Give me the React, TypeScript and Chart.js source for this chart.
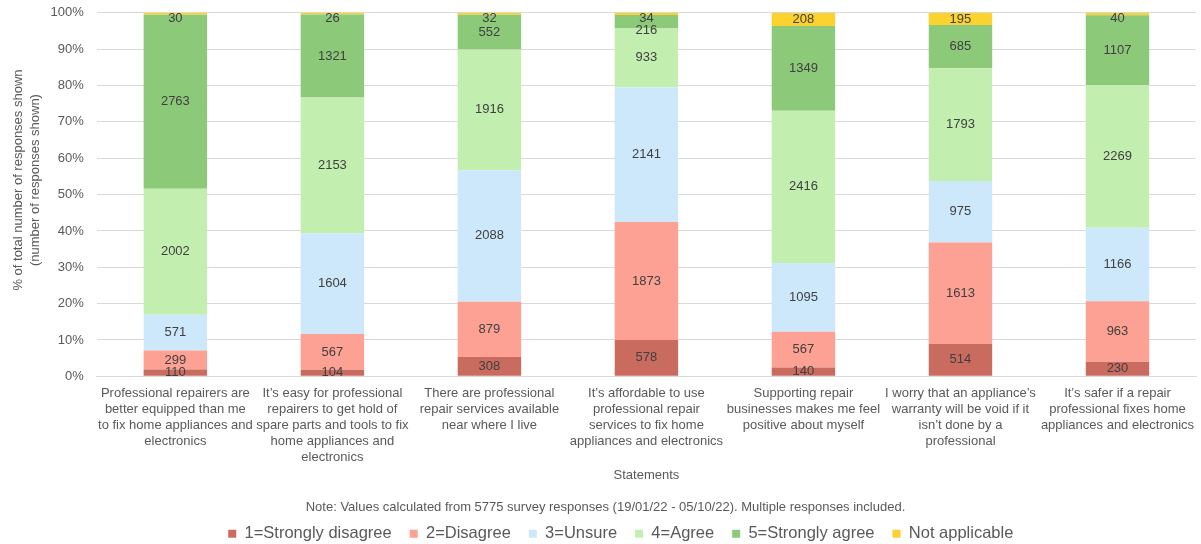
import React, { useEffect, useRef } from "react";
import { Chart, registerables } from "chart.js";

Chart.register(...registerables);

const categories: string[][] = [
  ["Professional repairers are", "better equipped than me", "to fix home appliances and", "electronics"],
  ["It’s easy for professional", "repairers to get hold of", "spare parts and tools to fix", "home appliances and", "electronics"],
  ["There are professional", "repair services available", "near where I live"],
  ["It’s affordable to use", "professional repair", "services to fix home", "appliances and electronics"],
  ["Supporting repair", "businesses makes me feel", "positive about myself"],
  ["I worry that an appliance’s", "warranty will be void if it", "isn’t done by a", "professional"],
  ["It’s safer if a repair", "professional fixes home", "appliances and electronics"],
];

const stronglyDisagree = [110, 104, 308, 578, 140, 514, 230];
const disagree = [299, 567, 879, 1873, 567, 1613, 963];
const unsure = [571, 1604, 2088, 2141, 1095, 975, 1166];
const agree = [2002, 2153, 1916, 933, 2416, 1793, 2269];
const stronglyAgree = [2763, 1321, 552, 216, 1349, 685, 1107];
const notApplicable = [30, 26, 32, 34, 208, 195, 40];

const seriesNames = ["1=Strongly disagree", "2=Disagree", "3=Unsure", "4=Agree", "5=Strongly agree", "Not applicable"];
const seriesCounts = [stronglyDisagree, disagree, unsure, agree, stronglyAgree, notApplicable];
const seriesColors = ["#c96b5f", "#fca193", "#cde8fb", "#c2efb0", "#8cc979", "#fcd32e"];

const TOTAL_RESPONSES = 5775;
const yAxisTitle = ["% of total number of responses shown", "(number of responses shown)"];
const noteText = "Note: Values calculated from 5775 survey responses (19/01/22 - 05/10/22). Multiple responses included.";
const FONT = "'Liberation Sans', Arial, Helvetica, sans-serif";
const TEXT = "#595959";

const labelPlugin = {
  id: "segmentLabels",
  afterDatasetsDraw(chart: any) {
    const ctx = chart.ctx;
    ctx.save();
    ctx.font = `13px ${FONT}`;
    ctx.fillStyle = "#404040";
    ctx.textAlign = "center";
    ctx.textBaseline = "middle";
    const n = chart.data.labels.length;
    const dsCount = chart.data.datasets.length;
    for (let i = 0; i < n; i++) {
      let prevY = -Infinity;
      // from the top segment downwards, keep labels inside the plot and apart
      for (let di = dsCount - 1; di >= 0; di--) {
        const ds: any = chart.data.datasets[di];
        const el: any = chart.getDatasetMeta(di).data[i];
        let y = (el.y + el.base) / 2;
        y = Math.max(y, chart.chartArea.top + 5.5, prevY + 12);
        prevY = y;
        ctx.fillText(String(ds.counts[i]), el.x, y);
      }
    }
    ctx.restore();
  },
};

const textPlugin = {
  id: "extraTexts",
  afterDraw(chart: any) {
    const ctx = chart.ctx;
    const area = chart.chartArea;
    ctx.save();
    ctx.font = `13px ${FONT}`;
    ctx.fillStyle = TEXT;
    ctx.textAlign = "center";
    ctx.textBaseline = "middle";
    // y-axis title (rotated, two lines)
    const yc = area.top + (area.bottom - area.top) * 0.46;
    ctx.save();
    ctx.translate(18, yc);
    ctx.rotate(-Math.PI / 2);
    ctx.fillText(yAxisTitle[0], 0, 0);
    ctx.fillText(yAxisTitle[1], 0, 17);
    ctx.restore();
    // note line above the legend
    ctx.fillText(noteText, chart.width / 2 + 5, chart.legend.top - 0.5);
    ctx.restore();
  },
};

export default function App() {
  const ref = useRef<HTMLCanvasElement>(null);
  useEffect(() => {
    document.body.style.margin = "0";
    const chart = new Chart(ref.current!, {
      type: "bar",
      data: {
        labels: categories,
        datasets: seriesNames.map((name, k) => ({
          label: name,
          data: seriesCounts[k].map((v) => (v / TOTAL_RESPONSES) * 100),
          counts: seriesCounts[k],
          backgroundColor: seriesColors[k],
          borderWidth: 0,
          barPercentage: 0.404,
          categoryPercentage: 1,
        })) as any,
      },
      options: {
        animation: false,
        responsive: false,
        maintainAspectRatio: false,
        layout: { padding: { left: 45.6, right: 5, top: 2, bottom: -8 } },
        scales: {
          x: {
            stacked: true,
            grid: { display: false },
            border: { color: "#d9d9d9" },
            ticks: {
              color: TEXT,
              font: { family: FONT, size: 13, lineHeight: 1.23 },
              maxRotation: 0,
              autoSkip: false,
              padding: 1,
            },
            title: {
              display: true,
              text: "Statements",
              color: TEXT,
              font: { family: FONT, size: 13 },
              padding: { top: 1, bottom: 24.6 },
            },
          },
          y: {
            stacked: true,
            min: 0,
            max: 100,
            border: { display: false },
            grid: { color: "#d9d9d9", drawTicks: true, tickLength: 8, tickColor: "rgba(0,0,0,0)" },
            ticks: {
              stepSize: 10,
              color: TEXT,
              font: { family: FONT, size: 13 },
              callback: (v: any) => v + "%",
              padding: 5,
            },
          },
        },
        plugins: {
          tooltip: { enabled: false },
          legend: {
            position: "bottom",
            labels: {
              color: TEXT,
              font: { family: FONT, size: 16.5 },
              boxWidth: 8,
              boxHeight: 8,
              padding: 18,
            },
          },
        },
      },
      plugins: [labelPlugin, textPlugin],
    });
    return () => chart.destroy();
  }, []);
  return (
    <div style={{ width: 1201, height: 544 }}>
      <canvas ref={ref} width={1201} height={544} style={{ display: "block" }} />
    </div>
  );
}
